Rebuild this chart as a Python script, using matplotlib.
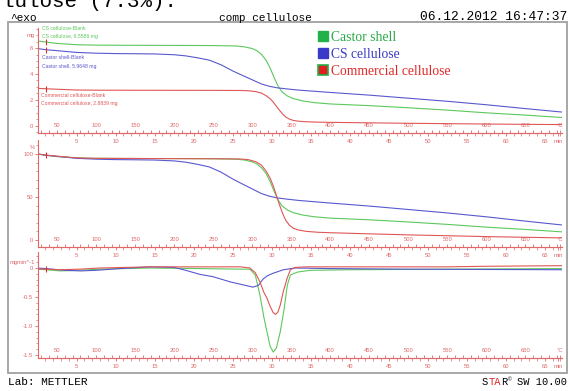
import numpy as np
import matplotlib.pyplot as plt
from matplotlib.patches import Rectangle, Patch
from matplotlib.ticker import MultipleLocator

W, H = 569, 391
plt.rcParams['axes.unicode_minus'] = False

# Sample masses (mg)
mass_cs = 6.5586
mass_castor = 5.9648
mass_comm = 2.8839

# TGA, residual mass in % vs temperature (degC)
temp_cs = [25, 36, 50, 75, 100, 150, 200, 250, 280, 290, 300, 306, 312, 318, 323,
           328, 333, 338, 345, 352, 365, 380, 400, 450, 500, 550, 600, 650, 697]
tga_cs = [100, 98.6, 97.0, 95.5, 95.0, 94.8, 94.7, 94.5, 94.0, 93.0, 91.0, 88.5, 84, 77, 68,
          57, 47, 40, 35, 32, 29, 27, 25.5, 23.5, 21, 18.2, 15, 12.3, 9.5]

temp_castor = [25, 36, 50, 75, 100, 125, 150, 175, 200, 215, 230, 245, 260, 275, 290,
               301, 312, 322, 332, 345, 360, 380, 400, 450, 500, 550, 600, 650, 697]
tga_castor = [100, 98.5, 97.3, 95, 94, 93.5, 93.3, 93, 92, 90.5, 88, 85, 79, 71, 64,
              59, 54, 51, 49, 47.5, 46, 44.5, 43, 39.5, 35.5, 31.5, 27, 22, 17.5]

temp_comm = [25, 36, 50, 75, 100, 150, 200, 250, 285, 295, 305, 312, 318, 323, 327, 331,
             335, 339, 343, 348, 353, 360, 370, 385, 400, 450, 500, 550, 600, 650, 697]
tga_comm = [100, 98.8, 97.5, 95.5, 95.0, 94.8, 94.6, 94.5, 94.2, 93.5, 91.0, 87, 80, 72, 63, 52,
            41, 31, 23, 17, 13.5, 11.5, 10, 9, 8.5, 7.2, 6.0, 5.0, 4.0, 3.2, 2.5]

# DTG, mg/min vs temperature (degC)
dtemp_cs = [25, 36, 54, 79, 105, 169, 233, 285, 297, 304, 310, 315, 319, 323, 327, 331,
            336, 341, 345, 349, 358, 374, 426, 554, 697]
dtg_cs = [-0.02, -0.03, -0.05, -0.04, -0.02, 0.0, -0.01, -0.02, -0.02, -0.12, -0.47, -0.85,
          -1.10, -1.35, -1.45, -1.38, -1.10, -0.70, -0.30, -0.12, -0.07, -0.04, -0.03, -0.02, -0.01]

dtemp_castor = [25, 36, 60, 80, 100, 130, 169, 200, 215, 233, 250, 272, 285, 301, 308, 314,
                320, 327, 340, 355, 400, 500, 697]
dtg_castor = [0.0, -0.01, -0.04, -0.05, -0.04, -0.01, 0.02, 0.01, -0.04, -0.11, -0.15, -0.24,
              -0.28, -0.33, -0.30, -0.19, -0.13, -0.09, -0.03, 0.0, -0.01, -0.02, -0.03]

dtemp_comm = [25, 36, 54, 79, 105, 169, 233, 285, 297, 304, 310, 315, 319, 323, 327, 330,
              333, 336, 340, 345, 349, 355, 370, 450, 550, 600, 697]
dtg_comm = [-0.02, -0.02, -0.03, -0.02, 0.0, 0.02, 0.02, 0.02, 0.0, -0.08, -0.24, -0.42, -0.52,
            -0.66, -0.77, -0.80, -0.76, -0.64, -0.40, -0.17, -0.03, 0.01, 0.02, 0.02, 0.02, 0.03, 0.04]

temp_ticks = [50, 100, 150, 200, 250, 300, 350, 400, 450, 500, 550, 600, 650]
time_ticks = [0, 5, 10, 15, 20, 25, 30, 35, 40, 45, 50, 55, 60, 65]

AX = '#e06868'
GREEN, BLUE, RED = '#5cc85c', '#5858d0', '#e05656'
T_MIN, T_MAX = 25.6, 697
RATE = 10.0  # K/min

fig = plt.figure(figsize=(W / 100, H / 100), dpi=100)


def panel(x0, top, x1, bottom, ylim):
    ax = fig.add_axes([x0 / W, 1 - bottom / H, (x1 - x0) / W, (bottom - top) / H])
    ax.patch.set_alpha(0)
    ax.set_xlim(T_MIN, T_MAX)
    ax.set_ylim(*ylim)
    for s in ('top', 'right'):
        ax.spines[s].set_visible(False)
    for s in ('left', 'bottom'):
        ax.spines[s].set_color(AX)
        ax.spines[s].set_linewidth(0.8)
    # temperature scale: labels inside, above the baseline
    ax.set_xticks(temp_ticks + [694], [str(t) for t in temp_ticks] + ['°C'])
    ax.xaxis.set_minor_locator(MultipleLocator(10))
    ax.tick_params(axis='x', which='both', direction='in', length=2.5, width=0.6,
                   colors=AX, labelsize=4.2, pad=-7.5)
    ax.tick_params(axis='y', which='major', direction='out', length=2.5, width=0.6,
                   colors=AX, labelsize=4.2, pad=1)
    ax.tick_params(axis='y', which='minor', direction='out', length=1.5, width=0.5, colors=AX)
    for lab in ax.get_xticklabels() + ax.get_yticklabels():
        lab.set_fontfamily('Liberation Sans')
    # time scale below
    sec = ax.secondary_xaxis('bottom', functions=(lambda T: (T - 25) / RATE,
                                                  lambda t: t * RATE + 25))
    sec.set_xticks(time_ticks + [66.7], [str(t) for t in time_ticks] + ['min'])
    sec.xaxis.set_minor_locator(MultipleLocator(1))
    sec.spines['bottom'].set_color(AX)
    sec.spines['bottom'].set_linewidth(0.8)
    sec.tick_params(which='major', direction='out', length=2.5, width=0.6,
                    colors=AX, labelsize=4.2, pad=1.5)
    sec.tick_params(which='minor', direction='out', length=1.8, width=0.5, colors=AX)
    for lab in sec.get_xticklabels():
        lab.set_fontfamily('Liberation Sans')
    return ax


def unit_label(ax, y, text):
    ax.text(-0.006, y, text, transform=ax.get_yaxis_transform(), ha='right', va='center',
            fontsize=4.2, color=AX, family='Liberation Sans')


def start_mark(ax, x, y):
    ax.plot(x[1], y[1], marker='|', color='#d83030', ms=5, mew=0.8)


# mass (mg)
ax1 = panel(38, 28, 562, 133, (-0.58, 7.56))
curves = [(temp_cs, tga_cs, mass_cs, GREEN),
          (temp_castor, tga_castor, mass_castor, BLUE),
          (temp_comm, tga_comm, mass_comm, RED)]
for temp, pct, m0, col in curves:
    mg = np.array(pct) / 100 * m0
    ax1.plot(temp, mg, color=col, lw=0.8)
    start_mark(ax1, temp, mg)
ax1.set_yticks([0, 2, 4, 6])
ax1.yaxis.set_minor_locator(MultipleLocator(0.5))
unit_label(ax1, 7.0, 'mg')

lab_kw = dict(fontsize=3.7, family='Liberation Sans', transform=ax1.transAxes, va='center')
ax1.text(0.008, 0.995, 'CS cellulose-Blank', color=GREEN, **lab_kw)
ax1.text(0.008, 0.92, 'CS cellulose, %.4f mg' % mass_cs, color=GREEN, **lab_kw)
ax1.text(0.008, 0.715, 'Castor shell-Blank', color=BLUE, **lab_kw)
ax1.text(0.008, 0.63, 'Castor shell, %.4f mg' % mass_castor, color=BLUE, **lab_kw)
ax1.text(0.006, 0.353, 'Commercial cellulose-Blank', color=RED, **lab_kw)
ax1.text(0.006, 0.277, 'Commercial cellulose, %.4f mg' % mass_comm, color=RED, **lab_kw)

handles = [Patch(facecolor='#22b048', edgecolor='#22b048'),
           Patch(facecolor='#3a3ac8', edgecolor='#3a3ac8'),
           Patch(facecolor='#e02020', edgecolor='#22b048', lw=1.2)]
leg = ax1.legend(handles, ['Castor shell', 'CS cellulose', 'Commercial cellulose'],
                 loc='upper left', bbox_to_anchor=(318 / W, 1 - 31 / H),
                 bbox_transform=fig.transFigure, frameon=False, handlelength=0.75,
                 handleheight=0.75, handletextpad=0.2, labelspacing=0.3, borderpad=0,
                 borderaxespad=0, prop={'family': 'Liberation Serif', 'size': 9.8})
for txt, col in zip(leg.get_texts(), ['#2aa848', '#3c3cc4', '#e02828']):
    txt.set_color(col)

# residual mass (%)
ax2 = panel(38, 140, 562, 247, (-8.1, 116.3))
for temp, pct, m0, col in curves:
    ax2.plot(temp, pct, color=col, lw=0.8)
start_mark(ax2, temp_comm, tga_comm)
ax2.set_yticks([0, 50, 100])
ax2.yaxis.set_minor_locator(MultipleLocator(10))
unit_label(ax2, 107, '%')

# DTG (mg/min)
ax3 = panel(38, 252, 562, 358, (-1.552, 0.276))
for temp, rate, col in [(dtemp_cs, dtg_cs, GREEN), (dtemp_castor, dtg_castor, BLUE),
                        (dtemp_comm, dtg_comm, RED)]:
    ax3.plot(temp, rate, color=col, lw=0.8)
start_mark(ax3, dtemp_comm, dtg_comm)
ax3.set_yticks([-1.5, -1.0, -0.5, 0], ['-1.5', '-1.0', '-0.5', '0'])
ax3.yaxis.set_minor_locator(MultipleLocator(0.1))
unit_label(ax3, 0.1, 'mgmin^-1')
for lab in ax3.get_yticklabels():
    lab.set_fontfamily('Liberation Sans')

# frame and header / footer
fig.patches.append(Rectangle((8 / W, 1 - 373 / H), 559 / W, 351 / H, transform=fig.transFigure,
                             fill=False, ec='#a0a0a0', lw=1.3))
mono = dict(family='Liberation Mono', color='black')
fig.text(2 / W, 1 - 7 / H, 'lulose (7.3%).', fontsize=15, va='baseline', **mono)
fig.text(10 / W, 1 - 18 / H, '^exo', fontsize=8, va='center', **mono)
fig.text(265 / W, 1 - 18 / H, 'comp cellulose', fontsize=8, va='center', ha='center', **mono)
fig.text(567 / W, 1 - 17 / H, '06.12.2012 16:47:37', fontsize=9.3, va='center', ha='right', **mono)
fig.text(8 / W, 1 - 382 / H, 'Lab: METTLER', fontsize=8, va='center', **mono)
fig.text(567 / W, 1 - 382 / H, 'SW 10.00', fontsize=7.5, va='center', ha='right', **mono)
fig.text(482 / W, 1 - 382 / H, 'S', fontsize=7.5, va='center', **mono)
fig.text(488.3 / W, 1 - 382 / H, 'TA', fontsize=7.5, va='center', family='Liberation Mono',
         color='#e02020')
fig.text(500.8 / W, 1 - 382 / H, 'R', fontsize=7.5, va='center', **mono)
fig.text(507.5 / W, 1 - 379.5 / H, '©', fontsize=4.5, va='center', **mono)

fig.savefig('out.png', dpi=100)
